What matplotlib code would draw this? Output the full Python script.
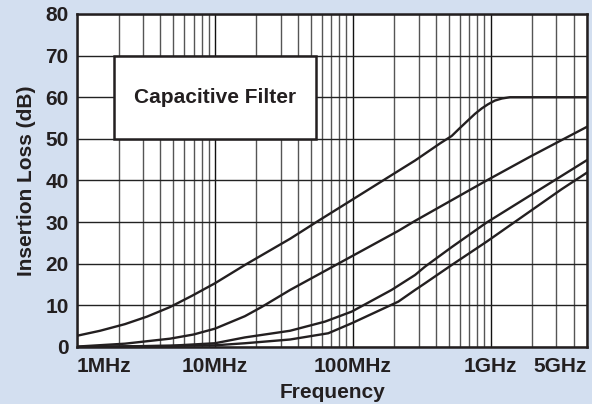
import matplotlib
matplotlib.use("Agg")
import matplotlib.pyplot as plt
from matplotlib.patches import Rectangle
from matplotlib.ticker import LogLocator, NullFormatter

plt.rcParams['font.family'] = ['Liberation Sans', 'DejaVu Sans']
plt.rcParams['font.weight'] = 'bold'
plt.rcParams['axes.labelweight'] = 'bold'

# insertion loss curves, frequency in MHz, loss in dB
freq_a = [1, 1.47, 2.23, 3.22, 4.73, 6.82, 10, 16.5, 35.1, 56.2, 98.2, 214, 283, 429,
          522, 598, 688, 769, 861, 956, 1074, 1208, 1380, 5000]
loss_a = [2.7, 3.9, 5.5, 7.3, 9.6, 12.3, 15.3, 19.7, 26.0, 30.3, 35.3, 42.3, 44.8, 48.9,
          50.7, 52.6, 54.5, 56.0, 57.3, 58.3, 59.2, 59.7, 60, 60]

freq_b = [1, 2.23, 4.73, 7.0, 10, 16.5, 21.8, 35.1, 87.8, 214, 283, 935, 1928, 3270, 5000]
loss_b = [0.1, 0.8, 2.0, 3.0, 4.4, 7.4, 9.6, 13.7, 20.9, 27.9, 30.3, 40, 45.7, 49.7, 52.9]

freq_c = [1, 4.73, 10, 16.5, 35.1, 62.9, 98.2, 191, 283, 334, 522, 935, 5000]
loss_c = [0, 0.3, 0.9, 2.3, 3.9, 6.1, 8.5, 13.7, 17.3, 19.3, 24.0, 29.9, 44.9]

freq_d = [1, 10, 16.5, 35.1, 66.4, 98.2, 214, 283, 334, 522, 935, 3270, 5000]
loss_d = [0, 0.4, 0.9, 1.8, 3.3, 5.7, 10.9, 13.7, 15.3, 19.7, 25.3, 37.9, 41.9]

tick_freqs = [1, 10, 100, 1000, 5000]
tick_labels = ['1MHz', '10MHz', '100MHz', '1GHz', '5GHz']

bg = '#d3dff0'
ink = '#231f20'

fig = plt.figure(figsize=(5.92, 4.04), dpi=100, facecolor=bg)
ax = fig.add_axes([0.1301, 0.1411, 0.8615, 0.8243])
ax.set_facecolor('white')

for f, l in [(freq_a, loss_a), (freq_b, loss_b), (freq_c, loss_c), (freq_d, loss_d)]:
    ax.plot(f, l, color=ink, lw=1.7, zorder=4, solid_joinstyle='round')

ax.set_xscale('log')
ax.set_xlim(1, 5000)
ax.set_ylim(0, 80)
ax.set_yticks(range(0, 81, 10))
ax.set_xticks(tick_freqs)
ax.set_xticklabels(tick_labels)
ax.xaxis.set_minor_locator(LogLocator(base=10, subs=range(2, 10)))
ax.xaxis.set_minor_formatter(NullFormatter())

labs = ax.get_xticklabels()
labs[0].set_horizontalalignment('left')
labs[-1].set_horizontalalignment('right')

ax.grid(True, which='major', axis='y', color='#222222', lw=1.0)
ax.grid(True, which='major', axis='x', color='#111111', lw=1.0)
ax.grid(True, which='minor', axis='x', color='#555555', lw=1.0)
ax.set_axisbelow(True)

ax.tick_params(which='both', length=0, labelsize=15, labelcolor=ink)
ax.tick_params(axis='x', pad=7)
ax.tick_params(axis='y', pad=6)

for s in ax.spines.values():
    s.set_linewidth(1.8)
    s.set_color(ink)
    s.set_zorder(5)

ax.set_xlabel('Frequency', fontsize=15, color=ink, labelpad=5)
ax.set_ylabel('Insertion Loss (dB)', fontsize=15, color=ink, labelpad=7)

box = Rectangle((1.85, 50), 54 - 1.85, 20, facecolor='white', edgecolor=ink,
                lw=1.8, zorder=3)
ax.add_patch(box)
ax.text(10, 60, 'Capacitive Filter', ha='center', va='center', fontsize=15,
        color=ink, zorder=4)

fig.savefig('out.png', dpi=100, facecolor=bg)
